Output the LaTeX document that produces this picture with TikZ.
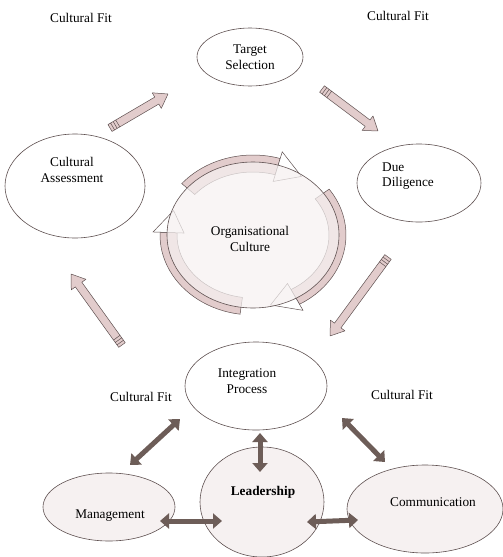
\documentclass[tikz,border=0pt]{standalone}
\usepackage{fontspec}
\setmainfont{Liberation Serif}
\usetikzlibrary{shapes.geometric,arrows.meta,calc}

\definecolor{rim}{HTML}{5E5050}
\definecolor{blush}{HTML}{E2CCCC}
\definecolor{mist}{HTML}{F6F1F1}
\definecolor{linkdark}{HTML}{6D5D58}

\tikzset{
  stage/.style={draw=rim, ellipse, line width=0.6pt, fill=white, inner sep=0pt},
  lbl/.style={font=\fontsize{13.3}{15.5}\selectfont, align=center, inner sep=1pt},
  flowarrow/.style={draw=rim, fill=blush, line width=0.5pt, line join=round},
  twoway/.style={draw=linkdark, line width=5pt,
    {Triangle[length=9pt,width=15pt]}-{Triangle[length=9pt,width=15pt]}},
}

% pink block arrow from #1 to #2
\newcommand{\flowarrow}[2]{%
  \draw[flowarrow] let \p1=(#1), \p2=(#2),
      \n1={atan2(\y2-\y1,\x2-\x1)}, \n2={veclen(\x2-\x1,\y2-\y1)} in
    {[shift={(\p1)}, rotate=\n1]
      (0pt,-4pt) -- ({\n2-13pt},-4pt) -- ({\n2-13pt},-9pt) -- (\n2,0pt)
      -- ({\n2-13pt},9pt) -- ({\n2-13pt},4pt) -- (0pt,4pt) -- cycle
      (3pt,-4pt) -- (3pt,4pt) (6pt,-4pt) -- (6pt,4pt) (9pt,-4pt) -- (9pt,4pt)};
}

% curved arrow round the culture circle: start, end, body fill, head fill
\newcommand{\cyclearrow}[4]{%
  \pgfmathsetmacro{\hs}{#2-18}
  \draw[draw=rim, line width=0.5pt, fill=#3]
    plot[domain=#1:\hs, samples=25] ({253+93*cos(\x)},{235+80*sin(\x)})
    -- plot[domain=\hs:#1, samples=25] ({253+76*cos(\x)},{235+63*sin(\x)}) -- cycle;
  \draw[draw=rim, line width=0.5pt, fill=#4]
    ({253+93*cos(\hs)},{235+80*sin(\hs)}) -- ({253+100*cos(\hs)},{235+87*sin(\hs)})
    -- ({253+84.5*cos(#2)},{235+71.5*sin(#2)}) -- ({253+69*cos(\hs)},{235+56*sin(\hs)})
    -- ({253+76*cos(\hs)},{235+63*sin(\hs)}) -- cycle;
}

\begin{document}
\begin{tikzpicture}[x=1pt, y=-1pt]
  \useasboundingbox (0,0) rectangle (503,557);

  % cultural fit labels
  \node[lbl] (fitTL) at (81,18) {Cultural Fit};
  \node[lbl] (fitTR) at (398,16) {Cultural Fit};
  \node[lbl] (fitBL) at (141,397) {Cultural Fit};
  \node[lbl] (fitBR) at (402,395) {Cultural Fit};

  % acquisition cycle
  \node[stage, minimum width=106pt, minimum height=58pt, lbl] (TS) at (250,57) {Target\\Selection};
  \node[stage, minimum width=140pt, minimum height=104pt] (CA) at (75,186) {};
  \node[lbl] (CAtext) at (72,170) {Cultural\\Assessment};
  \node[stage, minimum width=124pt, minimum height=78pt] (DD) at (419,183) {};
  \node[lbl, align=left] (DDtext) at (408,176) {Due\\Diligence};

  % organisational culture
  \cyclearrow{-140}{-55}{blush}{white}
  \cyclearrow{-35}{78}{blush}{white}
  \cyclearrow{98}{200}{blush}{white}
  \node[stage, fill=mist, fill opacity=0.72, minimum width=172pt, minimum height=146pt] (OC) at (253,235) {};
  \node[lbl] (OCtext) at (250,239) {Organisational\\Culture};

  % integration
  \node[stage, minimum width=142pt, minimum height=88pt] (IP) at (256,386) {};
  \node[lbl] (IPtext) at (247,381) {Integration\\Process};
  \node[stage, fill=mist, minimum width=132pt, minimum height=68pt] (MG) at (109,507) {};
  \node[lbl] (MGtext) at (110,516) {Management};
  \node[stage, fill=mist, minimum width=124pt, minimum height=110pt] (LD) at (262,502) {};
  \node[lbl, font=\fontsize{13.3}{15.5}\selectfont\bfseries] (LDtext) at (263,492) {Leadership};
  \node[stage, fill=mist, minimum width=156pt, minimum height=88pt] (CM) at (425,509) {};
  \node[lbl] (CMtext) at (433,502) {Communication};

  % arrow ends
  \coordinate (a1s) at (110,128);  \coordinate (a1e) at (168,94);
  \coordinate (a2s) at (322,89);   \coordinate (a2e) at (378,131);
  \coordinate (a3s) at (388,257);  \coordinate (a3e) at (330,336);
  \coordinate (a4s) at (122,345);  \coordinate (a4e) at (71,274);
  \flowarrow{a1s}{a1e}
  \flowarrow{a2s}{a2e}
  \flowarrow{a3s}{a3e}
  \flowarrow{a4s}{a4e}

  \coordinate (d1s) at (180,419);  \coordinate (d1e) at (130,465);
  \coordinate (d2s) at (260,433);  \coordinate (d2e) at (260,472);
  \coordinate (d3s) at (342,418);  \coordinate (d3e) at (385,462);
  \coordinate (d4s) at (160,521);  \coordinate (d4e) at (222,521);
  \coordinate (d5s) at (307,522);  \coordinate (d5e) at (358,520);
  \draw[twoway] (d1s) -- (d1e);
  \draw[twoway] (d2s) -- (d2e);
  \draw[twoway] (d3s) -- (d3e);
  \draw[twoway] (d4s) -- (d4e);
  \draw[twoway] (d5s) -- (d5e);
\end{tikzpicture}
\end{document}
